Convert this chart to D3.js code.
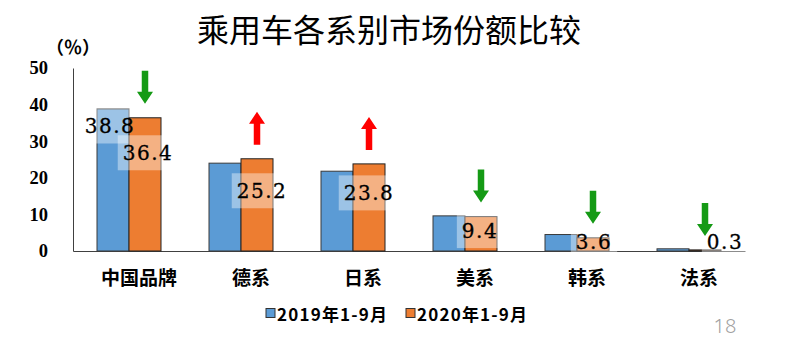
<!DOCTYPE html>
<html>
<head>
<meta charset="utf-8">
<script src="https://cdn.jsdelivr.net/npm/d3@7"></script>
<style>
  html, body { margin: 0; padding: 0; background: #fff; }
  svg { display: block; }
</style>
</head>
<body>
<svg id="chart" width="800" height="344"></svg>
<script>
// Passenger-car market share by brand origin, Jan–Sep 2019 vs Jan–Sep 2020
const categories = ["中国品牌", "德系", "日系", "美系", "韩系", "法系"];
const share2019 = [38.8, 24.0, 21.8, 9.6, 4.5, 0.6];
const share2020 = [36.4, 25.2, 23.8, 9.4, 3.6, 0.3];
const seriesNames = ["2019年1-9月", "2020年1-9月"];
const yTicks = [0, 10, 20, 30, 40, 50];
const labelled2019 = ["中国品牌"];
const titleText = "乘用车各系别市场份额比较";
const unitText = "（%）";
const pageNumber = "18";

// Label placement: [dx, dy] of the label centre from the top-centre of its bar
const nudge2019 = { "中国品牌": [-3, 17] };
const nudge2020 = [[3, 35], [5, 32], [0, 29], [-1, 14], [1, 4], [20, -8]];

const colors = ["#5B9BD5", "#ED7D31"];
const svg = d3.select("#chart");

const plot = { left: 73, right: 745, top: 68, bottom: 251 };

const x = d3.scaleBand()
  .domain(categories)
  .range([plot.left, plot.right])
  .paddingInner(3 / 7)
  .paddingOuter(3 / 14);

const xs = d3.scaleBand().domain([0, 1]).range([0, x.bandwidth()]);

const y = d3.scaleLinear().domain([0, 50]).range([plot.bottom, plot.top]);

// Title
svg.append("text")
  .attr("x", 389).attr("y", 27.5)
  .attr("text-anchor", "middle")
  .attr("dominant-baseline", "central")
  .style("font-family", "'Noto Sans CJK SC'")
  .style("font-weight", 400)
  .style("font-size", "32px")
  .attr("fill", "#000")
  .text(titleText);

// Unit label
svg.append("text")
  .attr("x", 73).attr("y", 45.5)
  .attr("text-anchor", "middle")
  .attr("dominant-baseline", "central")
  .style("font-family", "'Noto Sans CJK SC'")
  .style("font-weight", 700)
  .style("font-size", "18px")
  .style("font-feature-settings", "'fwid' 1")
  .text(unitText);

// Y axis
const yAxis = svg.append("g")
  .attr("transform", `translate(${plot.left},0)`)
  .call(d3.axisLeft(y).tickValues(yTicks).tickFormat(d3.format("d")).tickSize(0).tickSizeOuter(0).tickPadding(25));
yAxis.select(".domain").attr("stroke", "#404040").attr("stroke-width", 1);
yAxis.selectAll("text")
  .style("font-family", "'Liberation Serif'")
  .style("font-weight", 700)
  .style("font-size", "18.5px")
  .attr("fill", "#000");

// X axis (baseline + category names)
const xAxis = svg.append("g")
  .attr("transform", `translate(0,${plot.bottom})`)
  .call(d3.axisBottom(x).tickSize(0).tickSizeOuter(0));
xAxis.select(".domain").attr("stroke", "#404040").attr("stroke-width", 1);
xAxis.selectAll("text")
  .attr("y", 25.5).attr("dy", null).attr("dx", 10)
  .attr("dominant-baseline", "central")
  .style("font-family", "'Noto Sans CJK SC'")
  .style("font-weight", 700)
  .style("font-size", "19px")
  .attr("fill", "#000");

const rows = categories.map((c, i) => ({ cat: c, i, v: [share2019[i], share2020[i]] }));

function bars(layer, s) {
  layer.selectAll("rect")
    .data(rows)
    .join("rect")
    .attr("x", d => x(d.cat) + xs(s))
    .attr("y", d => y(d.v[s]))
    .attr("width", xs.bandwidth())
    .attr("height", d => y(0) - y(d.v[s]))
    .attr("fill", colors[s])
    .attr("stroke", s === 0 ? "#3a3a3a" : "#222")
    .attr("stroke-width", 1);
}

function labelCentre(d, s) {
  const n = s === 0 ? nudge2019[d.cat] : nudge2020[d.i];
  return [x(d.cat) + xs(s) + xs.bandwidth() / 2 + n[0], y(d.v[s]) + n[1]];
}

const labelFont = sel => sel
  .attr("text-anchor", "middle")
  .attr("dominant-baseline", "central")
  .style("font-family", "'DejaVu Serif'")
  .style("font-size", "20px")
  .style("letter-spacing", "1.5px")
  .style("stroke", "#000")
  .style("stroke-width", 0.3)
  .attr("fill", "#000");

const lab2019 = rows.filter(d => labelled2019.includes(d.cat));
const lab2020 = rows;

const gBars0 = svg.append("g");
const gBox0 = svg.append("g");
const gBars1 = svg.append("g");
const gBox1 = svg.append("g");
const gText = svg.append("g");
const gArrows = svg.append("g");

bars(gBars0, 0);
bars(gBars1, 1);

function labels(data, s, boxLayer) {
  const t = gText.append("g").selectAll("text")
    .data(data)
    .join("text")
    .attr("x", d => labelCentre(d, s)[0])
    .attr("y", d => labelCentre(d, s)[1])
    .call(labelFont)
    .text(d => d3.format(".1f")(d.v[s]));
  t.each(function (d) {
    const b = this.getBBox();
    const cy = labelCentre(d, s)[1];
    boxLayer.append("rect")
      .attr("x", b.x - 5)
      .attr("y", cy - 17.5)
      .attr("width", b.width + 10)
      .attr("height", 35)
      .attr("fill", "#fff")
      .attr("fill-opacity", 0.4);
  });
}
labels(lab2019, 0, gBox0);
labels(lab2020, 1, gBox1);

// Change arrows above the 2020 bars
const arrowW = 16, shaftW = 6.5, headH = 12, arrowL = 33, arrowGap = 14;
gArrows.selectAll("path")
  .data(rows)
  .join("path")
  .attr("transform", d => {
    const cx = x(d.cat) + xs(1) + xs.bandwidth() / 2;
    const bottom = y(d.v[1]) - arrowGap;
    return `translate(${cx},${bottom - arrowL})`;
  })
  .attr("d", d => {
    const down = d.v[1] < d.v[0];
    const h = shaftW / 2, w = arrowW / 2;
    if (down) {
      return `M${-h},0 L${h},0 L${h},${arrowL - headH} L${w},${arrowL - headH} L0,${arrowL} L${-w},${arrowL - headH} L${-h},${arrowL - headH} Z`;
    }
    return `M0,0 L${w},${headH} L${h},${headH} L${h},${arrowL} L${-h},${arrowL} L${-h},${headH} L${-w},${headH} Z`;
  })
  .attr("fill", d => d.v[1] < d.v[0] ? "#159A15" : "#FF0000");

// Legend
const legendX = [266, 406];
const legend = svg.append("g").selectAll("g")
  .data(seriesNames)
  .join("g")
  .attr("transform", (d, i) => `translate(${legendX[i]},313)`);
legend.append("rect")
  .attr("x", 0).attr("y", -4.5)
  .attr("width", 9).attr("height", 9)
  .attr("fill", (d, i) => colors[i])
  .attr("stroke", "#333").attr("stroke-width", 1);
legend.append("text")
  .attr("x", 11).attr("y", 0)
  .attr("dominant-baseline", "central")
  .style("font-family", "'Noto Sans CJK SC'")
  .style("font-weight", 700)
  .style("font-size", "17px")
  .style("letter-spacing", "1.2px")
  .attr("fill", "#000")
  .text(d => d);

// Page number
svg.append("text")
  .attr("x", 725).attr("y", 333)
  .attr("text-anchor", "middle")
  .style("font-family", "'Noto Sans'")
  .style("font-weight", 300)
  .style("font-size", "20px")
  .attr("fill", "#a0a0a0")
  .text(pageNumber);
</script>
</body>
</html>
